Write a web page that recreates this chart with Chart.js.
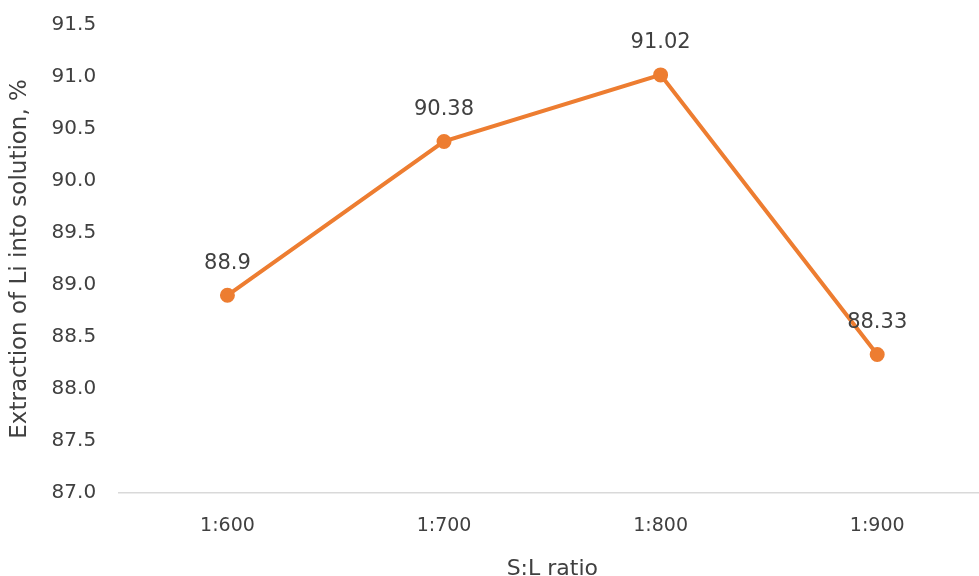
<!DOCTYPE html>
<html>
<head>
<meta charset="utf-8">
<script src="https://cdn.jsdelivr.net/npm/chart.js@4/dist/chart.umd.min.js"></script>
<style>
  html, body { margin: 0; padding: 0; background: #fff; overflow: hidden; }
  #clip { width: 979px; height: 576px; overflow: hidden; }
  #wrap { width: 995px; height: 576px; position: relative; }
</style>
</head>
<body>
<div id="clip"><div id="wrap"><canvas id="lineChart"></canvas></div></div>
<script>
// Data
const ratios = ['1:600', '1:700', '1:800', '1:900'];
const extraction = [88.9, 90.38, 91.02, 88.33];
const yMin = 87.0;
const yMax = 91.5;
const yStep = 0.5;

const orange = '#ED7D31';
const textColor = '#404040';
const fontFamily = '"DejaVu Sans", sans-serif';

// draws the value above each point
const pointLabels = {
    id: 'pointLabels',
    afterDatasetsDraw(chart) {
        const ctx = chart.ctx;
        const meta = chart.getDatasetMeta(0);
        ctx.save();
        ctx.font = '21px ' + fontFamily;
        ctx.fillStyle = textColor;
        ctx.textAlign = 'center';
        ctx.textBaseline = 'middle';
        meta.data.forEach((pt, i) => {
            ctx.fillText(String(extraction[i]), pt.x, pt.y - 32);
        });
        ctx.restore();
    }
};

const ctx = document.getElementById('lineChart').getContext('2d');

new Chart(ctx, {
    type: 'line',
    data: {
        labels: ratios,
        datasets: [{
            data: extraction,
            borderColor: orange,
            backgroundColor: orange,
            borderWidth: 4,
            pointRadius: 5.5,
            pointHoverRadius: 5.5,
            tension: 0
        }]
    },
    options: {
        responsive: true,
        maintainAspectRatio: false,
        animation: false,
        layout: { padding: { top: 25, right: 0, left: 6, bottom: -6 } },
        plugins: {
            legend: { display: false },
            tooltip: { enabled: false }
        },
        scales: {
            x: {
                offset: true,
                grid: { display: false, drawTicks: false },
                border: { color: '#d9d9d9', width: 1.5 },
                ticks: {
                    color: textColor,
                    font: { family: fontFamily, size: 19 },
                    padding: 22
                },
                title: {
                    display: true,
                    text: 'S:L ratio',
                    color: textColor,
                    font: { family: fontFamily, size: 22 },
                    padding: { top: -4, bottom: 0 }
                }
            },
            y: {
                min: yMin,
                max: yMax,
                grid: { display: false, drawTicks: false },
                border: { display: false },
                // keep the tick gap from pushing the top edge down
                afterFit: s => { s.paddingTop = 10; s.paddingBottom = 10; },
                ticks: {
                    stepSize: yStep,
                    color: textColor,
                    font: { family: fontFamily, size: 20 },
                    padding: 23,
                    callback: v => v.toFixed(1)
                },
                title: {
                    display: true,
                    text: 'Extraction of Li into solution, %',
                    color: textColor,
                    font: { family: fontFamily, size: 23 },
                    padding: { top: 0, bottom: -5 }
                }
            }
        }
    },
    plugins: [pointLabels]
});
</script>
</body>
</html>
